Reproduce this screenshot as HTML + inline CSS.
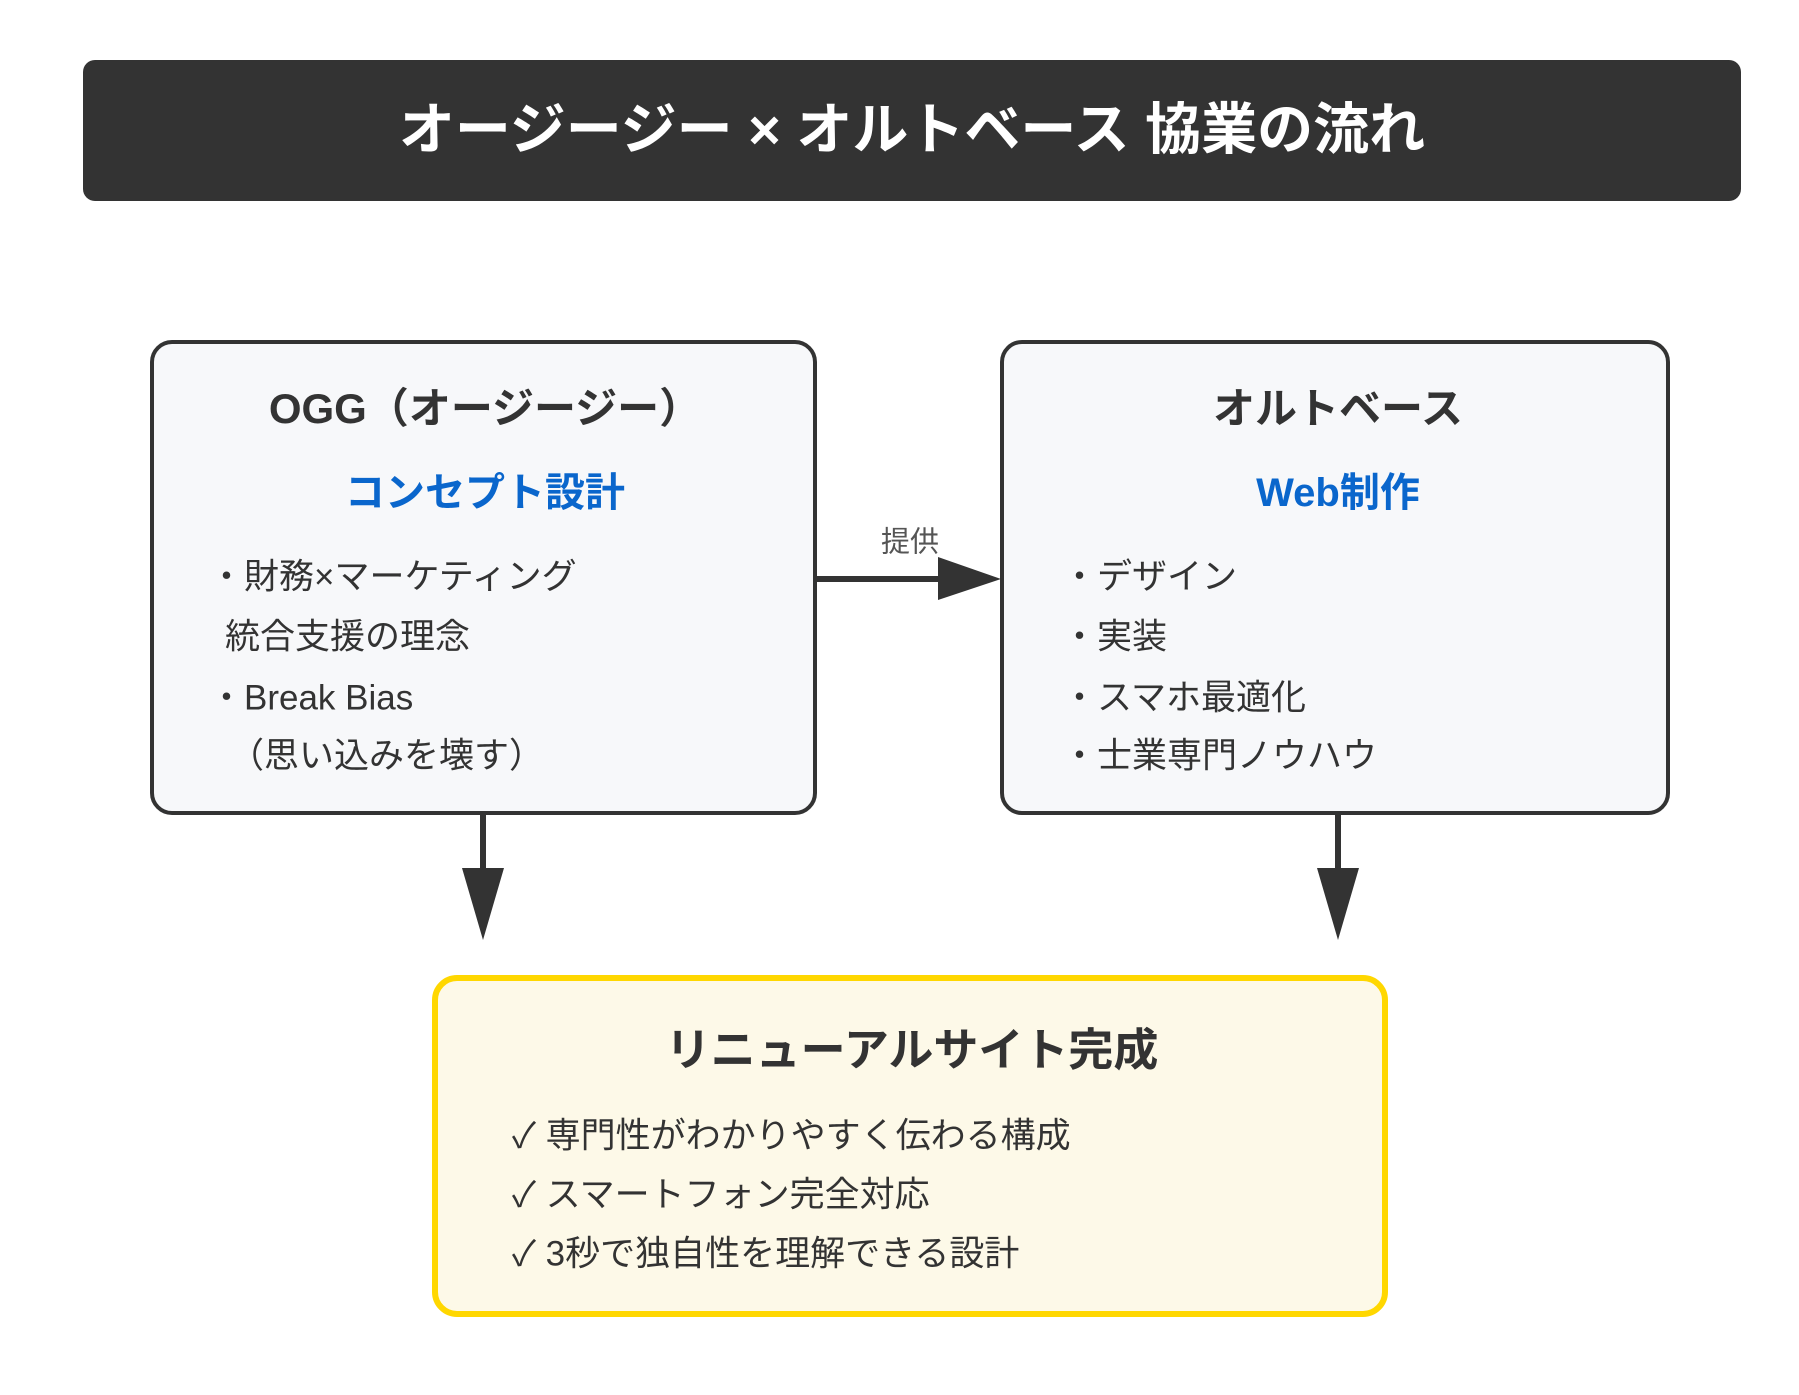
<!DOCTYPE html>
<html><head><meta charset="utf-8"><style>
html,body{margin:0;padding:0;background:#fff;}
body{width:1799px;height:1395px;position:relative;overflow:hidden;font-family:"Liberation Sans","Noto Sans CJK JP",sans-serif;color:#333;}
.t{position:absolute;white-space:nowrap;line-height:1;}
.c{transform:translate(-50%,-50%);}
.l{transform:translateY(-50%);}
</style></head><body>
<svg width="1799" height="1395" style="position:absolute;left:0;top:0">
<rect x="83" y="60" width="1658" height="141" rx="12" fill="#333"/>
<rect x="152" y="342" width="663" height="471" rx="20" fill="#f7f8fa" stroke="#333" stroke-width="4"/>
<rect x="1002" y="342" width="666" height="471" rx="20" fill="#f7f8fa" stroke="#333" stroke-width="4"/>
<rect x="435" y="978" width="950" height="336" rx="22" fill="#fdf9e8" stroke="#ffd700" stroke-width="6"/>
<line x1="817" y1="579" x2="945" y2="579" stroke="#333" stroke-width="6"/>
<polygon points="938,557 1001,579 938,600" fill="#333"/>
<line x1="483" y1="815" x2="483" y2="875" stroke="#333" stroke-width="6"/>
<polygon points="462,868 504,868 483,940" fill="#333"/>
<line x1="1338" y1="815" x2="1338" y2="875" stroke="#333" stroke-width="6"/>
<polygon points="1317,868 1359,868 1338,940" fill="#333"/>
</svg>
<div class="t c" style="left:912px;top:130px;font-size:56px;font-weight:bold;color:#fff">オージージー × オルトベース 協業の流れ</div>
<div class="t c" style="left:485px;top:409px;font-size:42px;font-weight:bold">OGG（オージージー）</div>
<div class="t c" style="left:485px;top:493px;font-size:40px;font-weight:bold;color:#0a66cc">コンセプト設計</div>
<div class="t l" style="left:209px;top:577px;font-size:35px">・財務×マーケティング</div>
<div class="t l" style="left:225px;top:637px;font-size:35px">統合支援の理念</div>
<div class="t l" style="left:209px;top:698px;font-size:35px">・Break Bias</div>
<div class="t l" style="left:229px;top:756px;font-size:35px">（思い込みを壊す）</div>
<div class="t c" style="left:1338px;top:409px;font-size:42px;font-weight:bold">オルトベース</div>
<div class="t c" style="left:1338px;top:493px;font-size:40px;font-weight:bold;color:#0a66cc">Web制作</div>
<div class="t l" style="left:1062px;top:577px;font-size:35px">・デザイン</div>
<div class="t l" style="left:1062px;top:637px;font-size:35px">・実装</div>
<div class="t l" style="left:1062px;top:698px;font-size:35px">・スマホ最適化</div>
<div class="t l" style="left:1062px;top:756px;font-size:35px">・士業専門ノウハウ</div>
<div class="t c" style="left:910px;top:543px;font-size:29px;color:#555">提供</div>
<div class="t c" style="left:912px;top:1050px;font-size:45px;font-weight:bold">リニューアルサイト完成</div>
<div class="t l" style="left:512px;top:1136px;font-size:35px">✓ 専門性がわかりやすく伝わる構成</div>
<div class="t l" style="left:512px;top:1195px;font-size:35px">✓ スマートフォン完全対応</div>
<div class="t l" style="left:512px;top:1254px;font-size:35px">✓ 3秒で独自性を理解できる設計</div>
</body></html>
